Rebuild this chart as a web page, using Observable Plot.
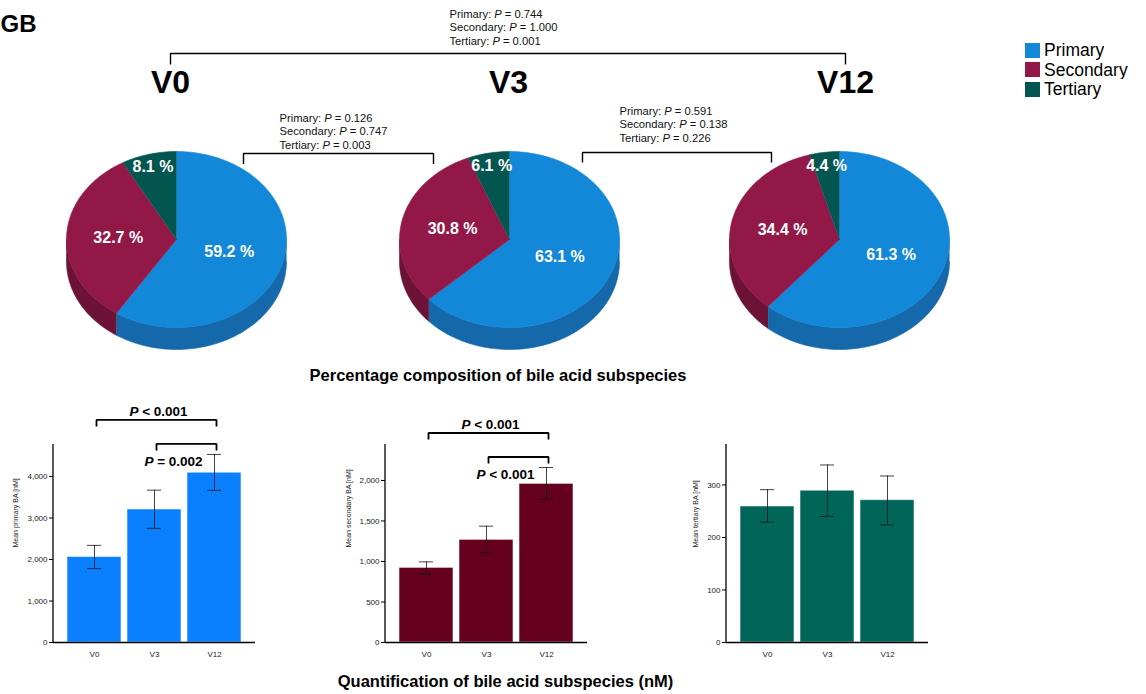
<!DOCTYPE html>
<html>
<head>
<meta charset="utf-8">
<script src="https://cdn.jsdelivr.net/npm/d3@7"></script>
<script src="https://cdn.jsdelivr.net/npm/@observablehq/plot@0.6"></script>
<style>
  body { margin: 0; background: #fff; }
  #fig { position: relative; width: 1146px; height: 694px; overflow: hidden; background: #fff;
         font-family: "Liberation Sans", Arial, sans-serif; color: #000; }
  #fig > * { position: absolute; margin: 0; }
</style>
</head>
<body>
<div id="fig"></div>
<script>
const FONT = '"Liberation Sans", Arial, sans-serif';

// ---- Data ---------------------------------------------------------------
const visits = ["V0", "V3", "V12"];
const subspecies = ["Primary", "Secondary", "Tertiary"];

// Percentage composition per visit (Primary, Secondary, Tertiary)
const compositionV0 = [59.2, 32.7, 8.1];
const compositionV3 = [63.1, 30.8, 6.1];
const compositionV12 = [61.3, 34.4, 4.4];

// Pairwise P values of the composition (Primary, Secondary, Tertiary)
const pV0vsV12 = [0.744, 1.000, 0.001];
const pV0vsV3 = [0.126, 0.747, 0.003];
const pV3vsV12 = [0.591, 0.138, 0.226];

// Mean concentrations [nM] and error bar limits per visit
const primaryMean = [2060, 3205, 4090];
const primaryLow = [1780, 2750, 3665];
const primaryHigh = [2340, 3670, 4530];
const secondaryMean = [921, 1267, 1958];
const secondaryLow = [843, 1106, 1769];
const secondaryHigh = [995, 1436, 2160];
const tertiaryMean = [259, 289, 271];
const tertiaryLow = [229, 240, 224];
const tertiaryHigh = [291, 338, 317];

// Axis ticks and extents
const primaryTicks = [0, 1000, 2000, 3000, 4000];
const secondaryTicks = [0, 500, 1000, 1500, 2000];
const tertiaryTicks = [0, 100, 200, 300];
const primaryMax = 4770, secondaryMax = 2444, tertiaryMax = 377;

// Significance annotations on the bar charts (lowest bracket first)
const primaryTests = [
  {from: "V3", to: "V12", label: "P = 0.002"},
  {from: "V0", to: "V12", label: "P < 0.001"}
];
const secondaryTests = [
  {from: "V3", to: "V12", label: "P < 0.001"},
  {from: "V0", to: "V12", label: "P < 0.001"}
];

// ---- Styling & layout ---------------------------------------------------
const pieTop = {Primary: "#1388d8", Secondary: "#921848", Tertiary: "#03554f"};
const pieSide = {Primary: "#1569ab", Secondary: "#6d1237", Tertiary: "#023d39"};
const barFill = {Primary: "#0a80ff", Secondary: "#66001f", Tertiary: "#00665a"};

const pie = {cx: [176, 509, 839], cy: 239, rx: 110, ry: 88, depth: 22};
const labelRadius = {Primary: 0.5, Secondary: 0.53, Tertiary: 0.85};
const visitLabelX = [170, 508, 845];
const comparisonLayout = [
  {p: pV0vsV12, x1: 170, x2: 845, y: 53, leg: 11, textX: 449, textY: 17.5},
  {p: pV0vsV3, x1: 243, x2: 433, y: 153, leg: 10.5, textX: 279, textY: 121.5},
  {p: pV3vsV12, x1: 582, x2: 771, y: 152, leg: 10, textX: 619, textY: 114.5}
];
const lineGap = 13.4;

const fig = document.getElementById("fig");
function place(el, left, top) {
  el.style.left = left + "px";
  el.style.top = top + "px";
  fig.appendChild(el);
  return el;
}

// Turn a plain "… P = …" / "… P < …" text into one with an italic P
function italicP(svg) {
  d3.select(svg).selectAll("text").each(function () {
    if (this.childElementCount) return;
    const m = this.textContent.match(/^(.*?)\bP( [=<] .*)$/);
    if (!m) return;
    const t = d3.select(this).text(null);
    if (m[1]) t.append("tspan").text(m[1]);
    t.append("tspan").attr("font-style", "italic").text("P");
    t.append("tspan").text(m[2]);
  });
  return svg;
}

// ---- 3-D pies -----------------------------------------------------------
const TAU = 2 * Math.PI;
const rim = (i, t, drop = 0) => ({
  x: pie.cx[i] + pie.rx * Math.sin(TAU * t),
  y: pie.cy + drop - pie.ry * Math.cos(TAU * t)
});
const arc = (i, t0, t1, drop) => {
  const n = Math.max(2, Math.ceil((t1 - t0) * 240));
  return d3.range(n + 1).map(k => rim(i, t0 + (t1 - t0) * k / n, drop));
};

const topFaces = [], sideWalls = [], pieLabels = [];
[compositionV0, compositionV3, compositionV12].forEach((values, i) => {
  const total = d3.sum(values);
  let start = 0;
  values.forEach((pct, j) => {
    const name = subspecies[j];
    const end = start + pct / total;
    const id = `${visits[i]}-${name}`;
    // top face: centre, then the rim arc
    [{x: pie.cx[i], y: pie.cy}, ...arc(i, start, end, 0)]
      .forEach(p => topFaces.push({...p, id, color: pieTop[name]}));
    // visible side wall (front half of the rim only)
    const s0 = Math.max(start, 0.25), s1 = Math.min(end, 0.75);
    if (s1 > s0) {
      [...arc(i, s0, s1, 0), ...arc(i, s0, s1, pie.depth).reverse()]
        .forEach(p => sideWalls.push({...p, id, color: pieSide[name]}));
    }
    const mid = (start + end) / 2, r = labelRadius[name];
    pieLabels.push({
      x: pie.cx[i] + r * pie.rx * Math.sin(TAU * mid),
      y: pie.cy - r * pie.ry * Math.cos(TAU * mid),
      text: `${pct.toFixed(1)} %`
    });
    start = end;
  });
});

const bracketPts = [], pTexts = [];
comparisonLayout.forEach((c, k) => {
  [[c.x1, c.y + c.leg], [c.x1, c.y], [c.x2, c.y], [c.x2, c.y + c.leg]]
    .forEach(([x, y]) => bracketPts.push({id: k, x, y}));
  subspecies.forEach((s, j) => pTexts.push({
    x: c.textX, y: c.textY + j * lineGap, text: `${s}: P = ${c.p[j].toFixed(3)}`
  }));
});

const piePlot = Plot.plot({
  width: 1146, height: 388, margin: 0,
  x: {domain: [0, 1146], range: [0, 1146], axis: null},
  y: {domain: [0, 388], range: [0, 388], axis: null},
  color: {type: "identity"},
  style: {background: "none", fontFamily: FONT, overflow: "visible"},
  marks: [
    Plot.line(sideWalls, {x: "x", y: "y", z: "id", fill: "color", stroke: "color", strokeWidth: 0.6}),
    Plot.line(topFaces, {x: "x", y: "y", z: "id", fill: "color", stroke: "color", strokeWidth: 0.6}),
    Plot.text(pieLabels, {x: "x", y: "y", text: "text", fill: "white", fontSize: 16, fontWeight: "bold", lineAnchor: "middle"}),
    Plot.text(visits, {x: (d, i) => visitLabelX[i], y: () => 92, text: d => d, fontSize: 32, fontWeight: "bold", lineAnchor: "bottom"}),
    Plot.line(bracketPts, {x: "x", y: "y", z: "id", stroke: "#000", strokeWidth: 1.4, strokeLinecap: "butt", strokeLinejoin: "miter"}),
    Plot.text(pTexts, {x: "x", y: "y", text: "text", textAnchor: "start", lineAnchor: "bottom", fontSize: 11.2, fill: "#111"}),
    Plot.text(["GB"], {x: () => 0, y: () => 31, text: d => d, textAnchor: "start", lineAnchor: "bottom", fontSize: 24, fontWeight: "bold"}),
    Plot.text(["Percentage composition of bile acid subspecies"], {x: () => 497.5, y: () => 380, text: d => d, lineAnchor: "bottom", fontSize: 16.5, fontWeight: "bold"})
  ]
});
place(italicP(piePlot), 0, 0);

// ---- Legend -------------------------------------------------------------
const legend = Plot.legend({
  color: {type: "ordinal", domain: subspecies, range: subspecies.map(s => pieTop[s])},
  legend: "swatches", columns: 1, swatchSize: 15
});
legend.style.fontFamily = FONT;
legend.style.fontSize = "17.5px";
legend.style.lineHeight = "18.5px";
legend.style.width = "130px";
legend.querySelectorAll("svg").forEach(s => { s.style.marginRight = "4px"; });
place(legend, 1025, 41);

// ---- Bar charts ---------------------------------------------------------
function barChart({name, mean, low, high, ticks, ymax, label, labelDx, tests = [], width}) {
  const height = 270, marginTop = 54, marginBottom = 18, marginLeft = 53, marginRight = width - 255;
  const k = (height - marginTop - marginBottom) / ymax; // pixels per nM
  const rows = visits.map((visit, i) => ({visit, mean: mean[i], low: low[i], high: high[i]}));
  const base = d3.max(high) + 10.5 / k;
  const brackets = [], lowerText = [], upperText = [];
  tests.forEach((t, level) => {
    const y = base + level * 24 / k, leg = 6.5 / k, id = level;
    brackets.push({id, x: t.from, y: y - leg}, {id, x: t.from, y}, {id, x: t.to, y}, {id, x: t.to, y: y - leg});
    const i0 = visits.indexOf(t.from), i1 = visits.indexOf(t.to);
    if (level === 0) lowerText.push({x: t.from, y: y - 22 / k, text: t.label});
    else upperText.push({x: visits[Math.round((i0 + i1) / 2)], y: y + 4 / k, text: t.label});
  });
  const axisLine = (index, scales, values, dims) =>
    d3.create("svg:line")
      .attr("x1", dims.marginLeft).attr("x2", dims.marginLeft)
      .attr("y1", scales.y(0)).attr("y2", scales.y(ymax))
      .attr("stroke", "#000").attr("stroke-width", 1.3).node();
  const svg = Plot.plot({
    width, height, marginTop, marginBottom, marginLeft, marginRight,
    x: {domain: visits, paddingInner: 0.1, paddingOuter: 0.21, label: null},
    y: {domain: [0, ymax], label: null},
    style: {background: "none", fontFamily: FONT, fontSize: "8px", overflow: "visible"},
    marks: [
      Plot.barY(rows, {x: "visit", y: "mean", fill: barFill[name], stroke: "#ffffff", strokeOpacity: 0.55, strokeWidth: 1}),
      Plot.ruleX(rows, {x: "visit", y1: "low", y2: "high", stroke: "#141414", strokeOpacity: 0.8, strokeWidth: 1}),
      Plot.tickY(rows, {x: "visit", y: "low", stroke: "#141414", strokeOpacity: 0.8, insetLeft: 20, insetRight: 20}),
      Plot.tickY(rows, {x: "visit", y: "high", stroke: "#141414", strokeOpacity: 0.8, insetLeft: 20, insetRight: 20}),
      Plot.ruleY([0], {stroke: "#000", strokeWidth: 1.3}),
      axisLine,
      Plot.axisY({ticks, tickFormat: d3.format(","), tickSize: 4, tickPadding: 2, label: null, fill: "#222"}),
      Plot.axisX({tickSize: 0, tickPadding: 9, label: null, fill: "#222"}),
      Plot.text([label], {frameAnchor: "left", rotate: -90, dx: labelDx, dy: 4, text: d => d, fontSize: 7, fill: "#222"}),
      Plot.line(brackets, {x: "x", y: "y", z: "id", dx: 2, stroke: "#000", strokeWidth: 1.8, strokeLinecap: "butt", strokeLinejoin: "miter"}),
      Plot.text(lowerText, {x: "x", y: "y", text: "text", dx: 19, lineAnchor: "bottom", fontSize: 13.5, fontWeight: "bold"}),
      Plot.text(upperText, {x: "x", y: "y", text: "text", dx: 4, lineAnchor: "bottom", fontSize: 13.5, fontWeight: "bold"})
    ]
  });
  return italicP(svg);
}

place(barChart({
  name: "Primary", mean: primaryMean, low: primaryLow, high: primaryHigh,
  ticks: primaryTicks, ymax: primaryMax, label: "Mean primary BA [nM]", labelDx: -38,
  tests: primaryTests, width: 280
}), 0, 390);
place(barChart({
  name: "Secondary", mean: secondaryMean, low: secondaryLow, high: secondaryHigh,
  ticks: secondaryTicks, ymax: secondaryMax, label: "Mean secondary BA [nM]", labelDx: -37,
  tests: secondaryTests, width: 280
}), 332, 390);
place(barChart({
  name: "Tertiary", mean: tertiaryMean, low: tertiaryLow, high: tertiaryHigh,
  ticks: tertiaryTicks, ymax: tertiaryMax, label: "Mean tertiary BA [nM]", labelDx: -31,
  width: 285
}), 673, 390);

// ---- Caption under the bar charts -----------------------------------------
const caption = document.createElement("div");
caption.textContent = "Quantification of bile acid subspecies (nM)";
Object.assign(caption.style, {
  width: "1011px", textAlign: "center", fontWeight: "bold", fontSize: "16.5px", lineHeight: "16.5px"
});
place(caption, 0, 673);
</script>
</body>
</html>
